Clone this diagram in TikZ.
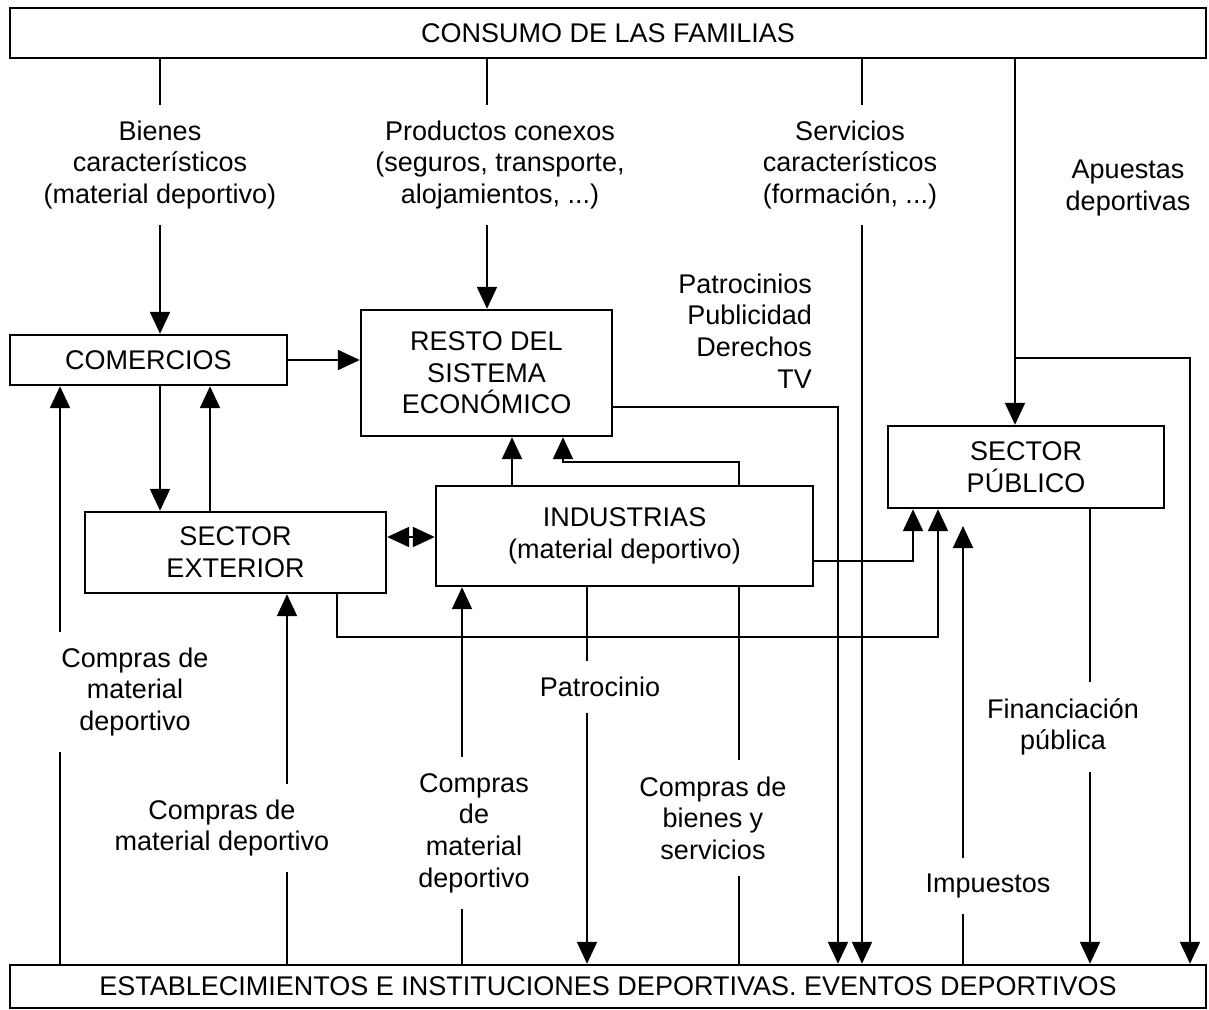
\documentclass[tikz,border=0pt]{standalone}
\usepackage{fontspec}
\setmainfont{Liberation Sans}
\usetikzlibrary{arrows.meta,backgrounds}

\begin{document}
\begin{tikzpicture}[x=0.5pt,y=-0.5pt,>={Triangle[length=11pt,width=10pt]},
  font=\fontsize{13.5}{15.8}\selectfont,
  box/.style 2 args={draw,line width=1.2pt,fill=white,inner sep=0pt,align=center,
    minimum width=#1*0.5pt,minimum height=#2*0.5pt},
  lbl/.style={fill=white,inner xsep=5pt,inner ysep=8pt,align=center},
  flow/.style={->,line width=1pt}]
  \useasboundingbox (0,0) rectangle (1209,1010);
%%
  % Node: consumo
  \node[box={1196}{50}] (consumo) at (608,33) {CONSUMO DE LAS FAMILIAS};
  % Node: estab
  \node[box={1196}{43}] (estab) at (608,986.5) {ESTABLECIMIENTOS E INSTITUCIONES DEPORTIVAS. EVENTOS DEPORTIVOS};
  % Node: comercios
  \node[box={277}{50}] (comercios) at (148.5,360) {COMERCIOS};
  % Node: resto
  \node[box={251}{126}] (resto) at (486.5,373) {RESTO DEL\\SISTEMA\\ECONÓMICO};
  % Node: exterior
  \node[box={301}{81}] (exterior) at (235.5,552.5) {SECTOR\\EXTERIOR};
  % Node: industrias
  \node[box={377}{100}] (industrias) at (624.5,536) {INDUSTRIAS\\(material deportivo)};
  % Node: publico
  \node[box={276}{82}] (publico) at (1026,467) {SECTOR\\PÚBLICO};
  \coordinate (apu) at (1015,358);
  \coordinate (imp) at (963,526);
%
  % Edge: consumo -> comercios
  \draw[flow] (160,0 |- consumo.south) -- (160,0 |- comercios.north);
  % Edge: consumo -> resto
  \draw[flow] (487,0 |- consumo.south) -- (487,0 |- resto.north);
  % Edge: consumo -> estab
  \draw[flow] (862,0 |- consumo.south) -- (862,0 |- estab.north);
  % Edge: consumo -> publico
  \draw[flow] (1015,0 |- consumo.south) -- (1015,0 |- publico.north);
  % Edge: apuestas -> estab
  \draw[flow] (apu) -| (1190,0 |- estab.north);
  % Edge: comercios -> resto
  \draw[flow] (comercios.east) -- (comercios.east -| resto.west);
  % Edge: comercios -> exterior
  \draw[flow] (160,0 |- comercios.south) -- (160,0 |- exterior.north);
  % Edge: exterior -> comercios
  \draw[flow] (210,0 |- exterior.north) -- (210,0 |- comercios.south);
  % Edge: exterior <-> industrias
  \draw[<->,line width=1pt] (exterior.east |- 0,537) -- (industrias.west |- 0,537);
  % Edge: industrias -> resto
  \draw[flow] (512,0 |- industrias.north) -- (512,0 |- resto.south);
  % Edge: estab -> resto (behind industrias)
  \begin{scope}[on background layer]
    \draw[flow] (739,0 |- estab.north) |- (563,462) -- (563,0 |- resto.south);
  \end{scope}
  % Edge: resto -> estab
  \draw[flow] (resto.east |- 0,407) -| (838,0 |- estab.north);
  % Edge: industrias -> publico
  \draw[flow] (industrias.east |- 0,561) -| (913,0 |- publico.south);
  % Edge: exterior -> publico
  \draw[flow] (337,0 |- exterior.south) |- (938,637) -- (938,0 |- publico.south);
  % Edge: estab -> publico (impuestos)
  \draw[flow] (963,0 |- estab.north) -- (imp);
  % Edge: publico -> estab
  \draw[flow] (1090,0 |- publico.south) -- (1090,0 |- estab.north);
  % Edge: estab -> comercios
  \draw[flow] (60,0 |- estab.north) -- (60,0 |- comercios.south);
  % Edge: estab -> exterior
  \draw[flow] (287,0 |- estab.north) -- (287,0 |- exterior.south);
  % Edge: estab -> industrias
  \draw[flow] (462,0 |- estab.north) -- (462,0 |- industrias.south);
  % Edge: industrias -> estab
  \draw[flow] (587,0 |- industrias.south) -- (587,0 |- estab.north);
%
  % Labels
  \node[lbl] (bienes) at (160,165) {Bienes\\característicos\\(material deportivo)};
  \node[lbl] (conexos) at (500,165) {Productos conexos\\(seguros, transporte,\\alojamientos, ...)};
  \node[lbl] (servicios) at (850,165) {Servicios\\característicos\\(formación, ...)};
  \node[align=center] (apuestas) at (1128,188) {Apuestas\\deportivas};
  \node[align=right,anchor=east] (patrocinios) at (819,331) {Patrocinios\\Publicidad\\Derechos\\TV};
  \node[lbl] (compras1) at (135,692) {Compras de\\material\\deportivo};
  \node[lbl] (compras2) at (222,828) {Compras de\\material deportivo};
  \node[lbl] (compras3) at (474,833) {Compras\\de\\material\\deportivo};
  \node[lbl] (patrocinio) at (600,687) {Patrocinio};
  \node[lbl] (comprasbs) at (713,818) {Compras de\\bienes y\\servicios};
  \node[lbl] (financiacion) at (1063,727) {Financiación\\pública};
  \node[lbl] (impuestos) at (988,886) {Impuestos};
%
\end{tikzpicture}
\end{document}
